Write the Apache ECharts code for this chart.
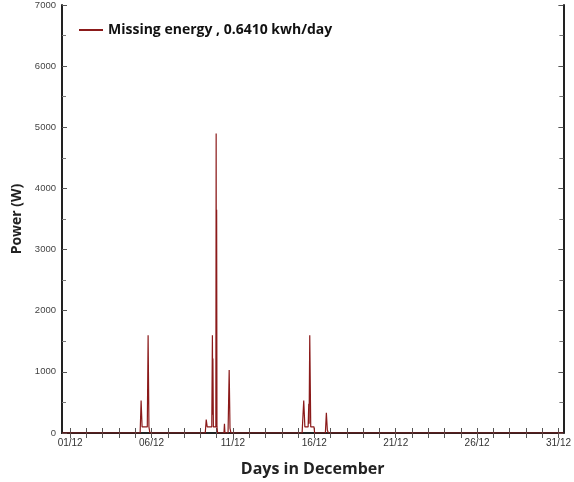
<!DOCTYPE html>
<html>
<head>
<meta charset="utf-8">
<script src="https://cdn.jsdelivr.net/npm/echarts@6/dist/echarts.min.js"></script>
<style>
  html, body { margin: 0; padding: 0; background: #fff; }
  #chart { width: 574px; height: 482px; }
</style>
</head>
<body>
<div id="chart"></div>
<script>
// time in days of December (fractional), power in W
const days = [
  0.5, 5.30, 5.36, 5.42, 5.74, 5.79, 5.84, 5.90,
  9.30, 9.36, 9.42, 9.70, 9.74, 9.76, 9.77, 9.80, 9.95, 9.97, 9.985, 10.0, 10.02, 10.06,
  10.45, 10.48, 10.51,
  10.70, 10.77, 10.82, 10.88,
  15.25, 15.35, 15.42, 15.62, 15.66, 15.68, 15.72, 15.78, 15.98, 16.02,
  16.68, 16.74, 16.80, 16.86,
  31.3
];
const power = [
  0, 0, 530, 100, 100, 1600, 100, 0,
  0, 220, 100, 100, 1600, 300, 1220, 100, 100, 4900, 200, 3650, 100, 0,
  0, 150, 0,
  0, 1030, 80, 0,
  0, 530, 100, 100, 480, 150, 1600, 100, 100, 0,
  0, 330, 50, 0,
  0
];
const labelDays = [1, 6, 11, 16, 21, 26, 31];
const tickDays = [];
for (let d = 1; d <= 31; d++) tickDays.push(d);
const seriesName = 'Missing energy , 0.6410 kwh/day';

const chart = echarts.init(document.getElementById('chart'));

const axisLine = { show: true, lineStyle: { color: '#222', width: 2 } };

chart.setOption({
  animation: false,
  grid: { left: 62, right: 9, top: 5, bottom: 45 },
  legend: {
    left: 74, top: 18,
    icon: 'rect', itemWidth: 24, itemHeight: 2, itemGap: 10,
    textStyle: { fontFamily: 'Open Sans', fontWeight: 'bold', fontSize: 14, color: '#111' },
    data: [seriesName]
  },
  xAxis: [{
    type: 'value', min: 0.5, max: 31.3,
    axisLine: axisLine,
    axisTick: { show: true, inside: true, length: 5, customValues: tickDays, lineStyle: { color: '#555' } },
    axisLabel: {
      customValues: labelDays, margin: 5,
      fontFamily: 'Liberation Sans', fontSize: 10, color: '#333',
      formatter: v => String(v).padStart(2, '0') + '/12'
    },
    splitLine: { show: false },
    name: 'Days in December', nameLocation: 'middle', nameGap: 28,
    nameTextStyle: { fontFamily: 'Open Sans', fontWeight: 'bold', fontSize: 16, color: '#222' }
  }, {
    type: 'value', position: 'top', min: 0.5, max: 31.3,
    axisLine: axisLine,
    axisTick: { show: true, inside: true, length: 5, customValues: tickDays, lineStyle: { color: '#555' } },
    axisLabel: { show: false },
    splitLine: { show: false }
  }],
  yAxis: [{
    type: 'value', min: 0, max: 7000, interval: 1000,
    axisLine: axisLine,
    axisTick: { show: true, inside: true, length: 5, lineStyle: { color: '#555' } },
    minorTick: { show: true, splitNumber: 2, length: 4, lineStyle: { color: '#777' } },
    axisLabel: { fontFamily: 'Liberation Sans', fontSize: 9.5, color: '#444', margin: 6, formatter: v => String(v) },
    splitLine: { show: false },
    name: 'Power (W)', nameLocation: 'middle', nameGap: 32, nameRotate: 90,
    nameTextStyle: { fontFamily: 'Open Sans', fontWeight: 'bold', fontSize: 14, color: '#222' }
  }, {
    type: 'value', position: 'right', min: 0, max: 7000, interval: 1000,
    axisLine: axisLine,
    axisTick: { show: true, inside: true, length: 5, lineStyle: { color: '#555' } },
    minorTick: { show: true, splitNumber: 2, length: 4, lineStyle: { color: '#777' } },
    axisLabel: { show: false },
    splitLine: { show: false }
  }],
  series: [{
    name: seriesName,
    type: 'line',
    showSymbol: false,
    color: '#8b1a1a',
    lineStyle: { width: 1.2 },
    data: days.map((d, i) => [d, power[i]])
  }]
});
</script>
</body>
</html>
